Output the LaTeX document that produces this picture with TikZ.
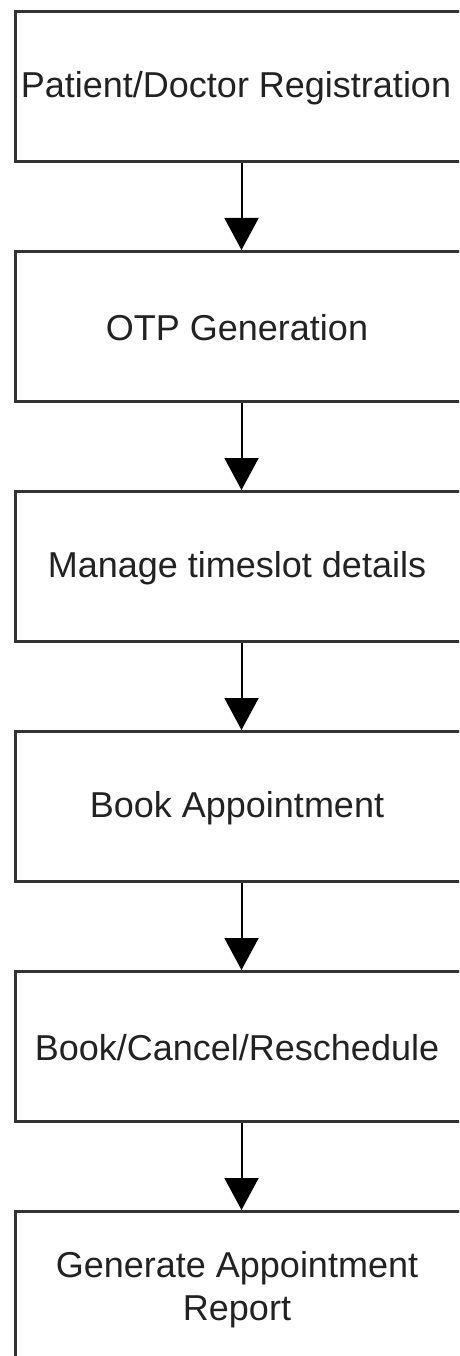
\documentclass[tikz,border=0pt]{standalone}
\usepackage{fontspec}
\setmainfont{Liberation Sans}
\usetikzlibrary{arrows.meta}
\definecolor{edge}{HTML}{333333}
\definecolor{ink}{HTML}{222222}
\tikzset{
  stepbox/.style={draw=edge, line width=3pt, minimum width=452pt, minimum height=150pt, inner sep=0pt, anchor=north west},
  lbl/.style={text=ink, font=\fontsize{36}{43}\selectfont, align=center, inner sep=0pt},
  flow/.style={draw=black, line width=2pt, -{Triangle[width=34pt,length=32pt]}}
}
\begin{document}
\begin{tikzpicture}[x=1pt,y=1pt]
\useasboundingbox (0,0) rectangle (459,-1356);
\begin{scope}
\clip (0,0) rectangle (459,-1356);
\node[stepbox] (b1) at (14,-10) {};
\node[stepbox] (b2) at (14,-250) {};
\node[stepbox] (b3) at (14,-490) {};
\node[stepbox] (b4) at (14,-730) {};
\node[stepbox] (b5) at (14,-970) {};
\node[stepbox] (b6) at (14,-1210) {};
\end{scope}
\node[lbl] (t1) at (236,-88) {Patient/Doctor Registration};
\node[lbl] (t2) at (237,-328) {OTP Generation};
\node[lbl] (t3) at (237,-568) {Manage timeslot details};
\node[lbl] (t4) at (237,-808) {Book Appointment};
\node[lbl] (t5) at (237,-1048) {Book/Cancel/Reschedule};
\node[lbl] (t6) at (237,-1290) {Generate Appointment\\Report};
\draw[flow] (b1.south) -- (b2.north);
\draw[flow] (b2.south) -- (b3.north);
\draw[flow] (b3.south) -- (b4.north);
\draw[flow] (b4.south) -- (b5.north);
\draw[flow] (b5.south) -- (b6.north);
\end{tikzpicture}
\end{document}
